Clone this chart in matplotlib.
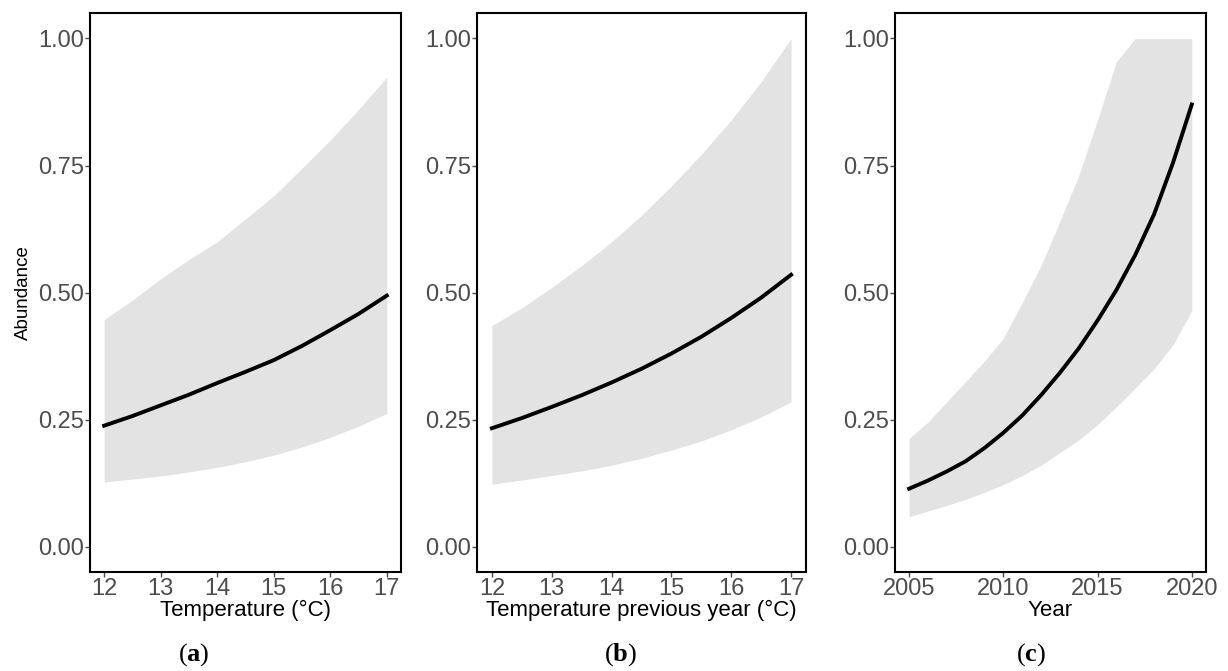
import matplotlib
matplotlib.use("Agg")
import matplotlib.pyplot as plt

plt.rcParams["font.family"] = ["Liberation Sans", "DejaVu Sans"]
plt.rcParams["mathtext.fontset"] = "custom"
plt.rcParams["mathtext.rm"] = "Liberation Serif"
plt.rcParams["mathtext.bf"] = "Liberation Serif:bold"

# panel (a): temperature
temp = [12, 12.5, 13, 13.5, 14, 14.5, 15, 15.5, 16, 16.5, 17]
a_fit = [0.238, 0.257, 0.278, 0.299, 0.322, 0.344, 0.367, 0.395, 0.426, 0.458, 0.494]
a_hi = [0.447, 0.485, 0.527, 0.565, 0.600, 0.645, 0.690, 0.745, 0.800, 0.860, 0.924]
a_lo = [0.127, 0.133, 0.139, 0.147, 0.156, 0.167, 0.180, 0.196, 0.215, 0.237, 0.262]

# panel (b): temperature previous year
b_fit = [0.233, 0.253, 0.275, 0.298, 0.323, 0.350, 0.380, 0.413, 0.450, 0.490, 0.535]
b_hi = [0.435, 0.470, 0.510, 0.553, 0.600, 0.652, 0.710, 0.772, 0.840, 0.915, 1.000]
b_lo = [0.123, 0.131, 0.140, 0.149, 0.160, 0.174, 0.190, 0.208, 0.230, 0.255, 0.285]

# panel (c): year
years = list(range(2005, 2021))
c_fit = [0.114, 0.130, 0.148, 0.168, 0.194, 0.224, 0.258, 0.298,
         0.342, 0.390, 0.445, 0.505, 0.574, 0.654, 0.755, 0.870]
c_hi = [0.213, 0.245, 0.285, 0.325, 0.365, 0.410, 0.480, 0.553,
        0.640, 0.730, 0.840, 0.954, 1.000, 1.000, 1.000, 1.000]
c_lo = [0.059, 0.070, 0.081, 0.093, 0.107, 0.122, 0.140, 0.160,
        0.185, 0.210, 0.240, 0.275, 0.312, 0.350, 0.397, 0.464]

y_ticks = [0.0, 0.25, 0.5, 0.75, 1.0]
y_labels = ["0.00", "0.25", "0.50", "0.75", "1.00"]

fig = plt.figure(figsize=(12.28, 6.71), dpi=100)

panels = [
    ([0.0733, 0.1475, 0.2532, 0.833], temp, a_fit, a_lo, a_hi,
     (11.75, 17.25), [12, 13, 14, 15, 16, 17], "Temperature (°C)", "a", 0.158),
    ([0.3884, 0.1475, 0.2680, 0.833], temp, b_fit, b_lo, b_hi,
     (11.75, 17.25), [12, 13, 14, 15, 16, 17], "Temperature previous year (°C)", "b", 0.505),
    ([0.7288, 0.1475, 0.2532, 0.833], years, c_fit, c_lo, c_hi,
     (2004.25, 2020.75), [2005, 2010, 2015, 2020], "Year", "c", 0.840),
]

for i, (pos, x, fit, lo, hi, xlim, xticks, xlabel, tag, tag_x) in enumerate(panels):
    ax = fig.add_axes(pos)
    ax.fill_between(x, lo, hi, color="#e3e3e3", lw=0)
    ax.plot(x, fit, color="black", lw=2.8)
    ax.set_xlim(*xlim)
    ax.set_ylim(-0.05, 1.05)
    ax.set_xticks(xticks)
    ax.set_yticks(y_ticks)
    ax.set_yticklabels(y_labels)
    ax.tick_params(colors="#4d4d4d", labelsize=17, length=3.5, width=1, pad=1)
    ax.set_xlabel(xlabel, fontsize=16, labelpad=0)
    for s in ax.spines.values():
        s.set_linewidth(1.5)
        s.set_color("black")
    if i == 0:
        ax.set_ylabel("Abundance", fontsize=13.5, labelpad=4)
    # panel letter, bold inside plain parentheses
    fig.text(tag_x, 0.025, r"$\mathrm{(}\mathbf{%s}\mathrm{)}$" % tag,
             ha="center", va="center", fontsize=19)

fig.savefig("out.png", dpi=100, facecolor="white")
